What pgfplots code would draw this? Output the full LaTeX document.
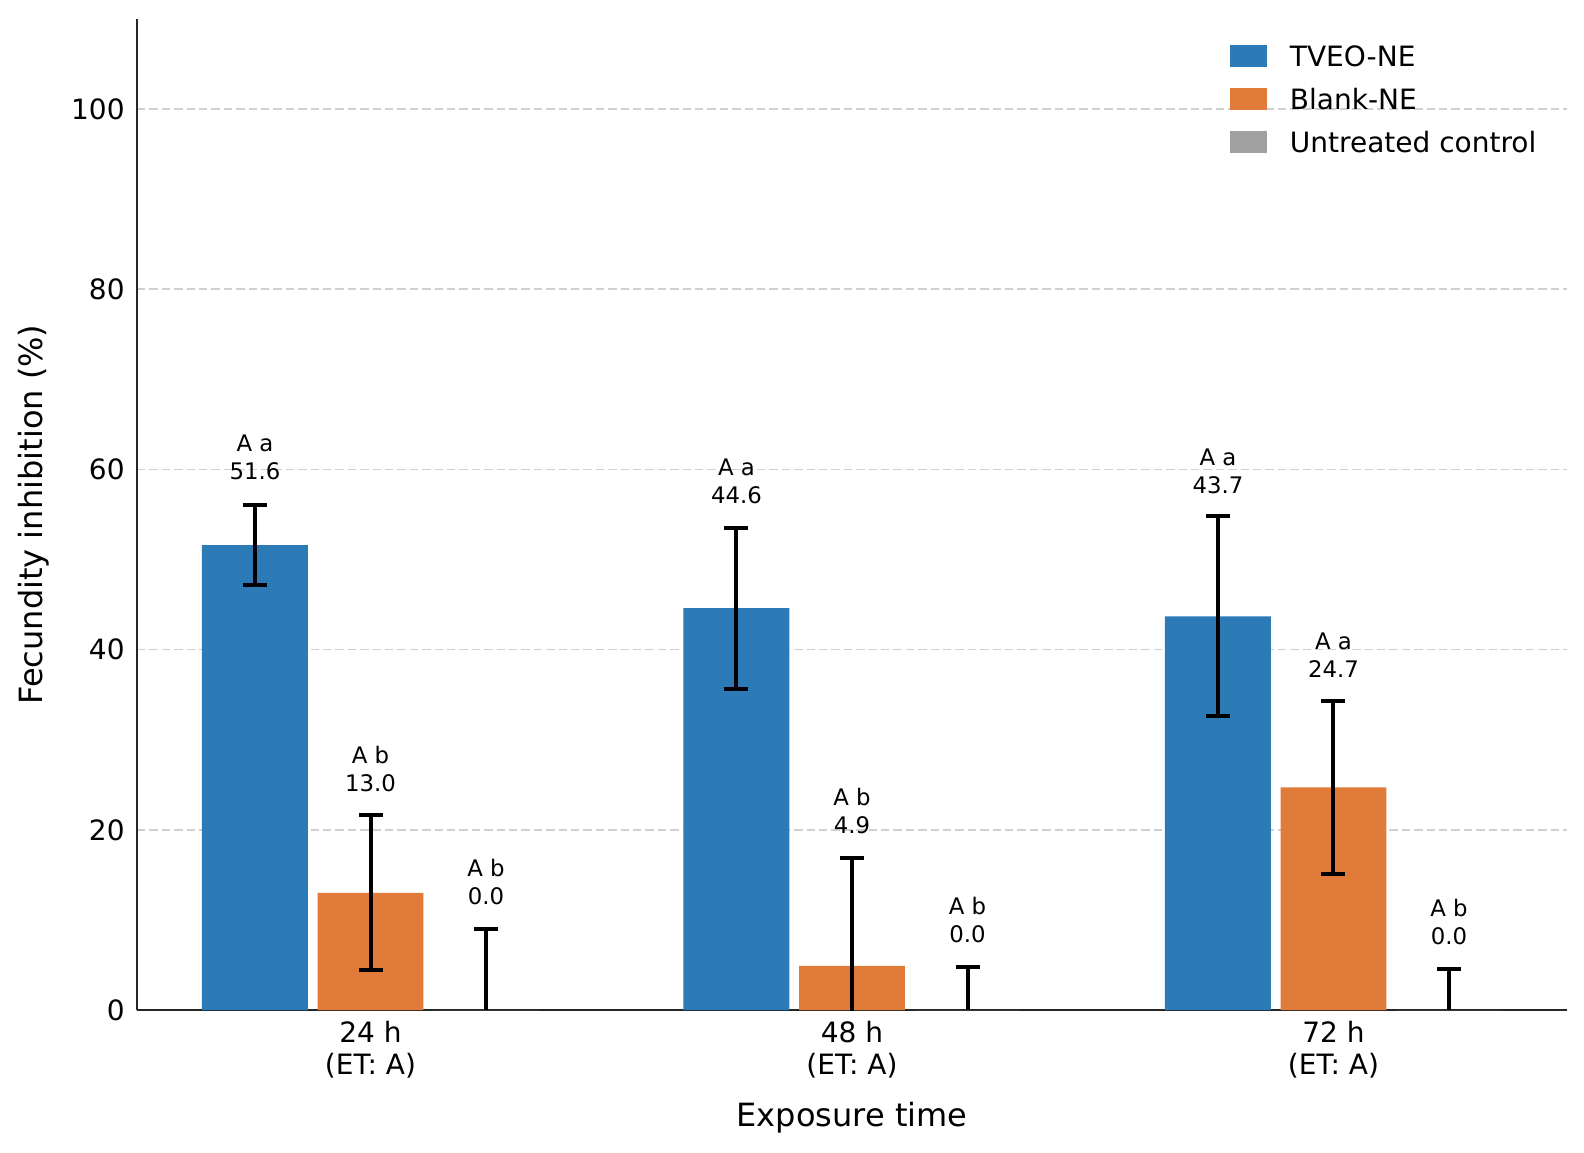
\documentclass[border=0pt]{standalone}
\usepackage{pgfplots}
\pgfplotsset{compat=1.18}
\usepackage{fontspec}
\setmainfont{DejaVu Sans}
\definecolor{cblue}{HTML}{2C7BB6}
\definecolor{corange}{HTML}{E07B39}
\definecolor{cgray}{HTML}{A0A0A0}
\definecolor{cgrid}{HTML}{D0D0D0}
\pgfplotsset{legpatch/.style={legend image code/.code={\fill[##1] (0pt,-0.4pt) rectangle (18.5pt,10.6pt);}}}
\begin{document}
\begin{tikzpicture}
\useasboundingbox (-68.5pt,-71pt) rectangle (723.5pt,505pt);
\begin{axis}[
  at={(0pt,0pt)}, anchor=south west,
  scale only axis, width=715pt, height=495.5pt,
  xmin=-0.485, xmax=2.485, ymin=0, ymax=110,
  axis x line*=bottom, axis y line*=left,
  axis line style={-, line width=1.2pt, black!85},
  xtick={0,1,2},
  xticklabels={{24 h\\(ET: A)},{48 h\\(ET: A)},{72 h\\(ET: A)}},
  ytick={0,20,40,60,80,100},
  major tick length=0pt,
  tick label style={font=\fontsize{14}{16}\selectfont},
  /pgf/number format/assume math mode=true,
  xticklabel style={align=center, anchor=north, inner sep=0pt, yshift=-5.5pt},
  yticklabel style={anchor=east, inner sep=0pt, xshift=-6pt},
  ymajorgrids,
  grid style={cgrid, line width=0.8pt, dash pattern=on 4.2pt off 2pt},
  xlabel={Exposure time}, ylabel={Fecundity inhibition (\%)},
  label style={font=\fontsize{16}{19}\selectfont},
  xlabel style={at={(axis description cs:0.5,-0.118)}, anchor=base, inner sep=0pt},
  ylabel style={at={(axis description cs:-0.072,0.5)}, anchor=center, inner sep=0pt},
  legend cell align=left,
  legend style={at={(axis description cs:0.7643,0.9852)}, anchor=north west,
    draw=none, fill=none, inner sep=0pt, outer sep=0pt, row sep=0pt, column sep=11.5pt,
    font=\fontsize{14}{16}\selectfont, cells={anchor=base west},
    nodes={inner sep=0pt, text height=16.5pt, text depth=5pt}},
]
\addplot[ybar, bar width=0.22, bar shift=0pt, fill=cblue, draw=none, legpatch,
  error bars/.cd, y dir=both, y explicit,
  error bar style={line width=2pt, black},
  error mark options={rotate=90, mark size=6pt, line width=2pt, black}]
  coordinates {(-0.24,51.6) +- (0,4.45) (0.76,44.6) +- (0,8.95) (1.76,43.7) +- (0,11.1)};
\addlegendentry{TVEO-NE}
\addplot[ybar, bar width=0.22, bar shift=0pt, fill=corange, draw=none, legpatch,
  error bars/.cd, y dir=both, y explicit,
  error bar style={line width=2pt, black},
  error mark options={rotate=90, mark size=6pt, line width=2pt, black}]
  coordinates {(0,13.0) +- (0,8.6) (1,4.9) +- (0,12.0) (2,24.7) +- (0,9.65)};
\addlegendentry{Blank-NE}
\addplot[ybar, bar width=0.22, bar shift=0pt, fill=cgray, draw=none, legpatch,
  error bars/.cd, y dir=plus, y explicit,
  error bar style={line width=2pt, black},
  error mark options={rotate=90, mark size=6pt, line width=2pt, black}]
  coordinates {(0.24,0) +- (0,9.0) (1.24,0) +- (0,4.8) (2.24,0) +- (0,4.6)};
\addlegendentry{Untreated control}
\addplot[forget plot, draw=none, mark=none, nodes near coords, point meta=explicit symbolic,
  nodes near coords style={anchor=south, align=center, inner sep=0pt,
    font=\fontsize{11.4}{14}\selectfont, black}]
  coordinates {(-0.24,58.8) [{A a\\51.6}] (0,24.2) [{A b\\13.0}] (0.24,11.6) [{A b\\0.0}]
    (0.76,56.1) [{A a\\44.6}] (1,19.5) [{A b\\4.9}] (1.24,7.4) [{A b\\0.0}]
    (1.76,57.3) [{A a\\43.7}] (2,36.9) [{A a\\24.7}] (2.24,7.2) [{A b\\0.0}]};
\end{axis}
\end{tikzpicture}
\end{document}
